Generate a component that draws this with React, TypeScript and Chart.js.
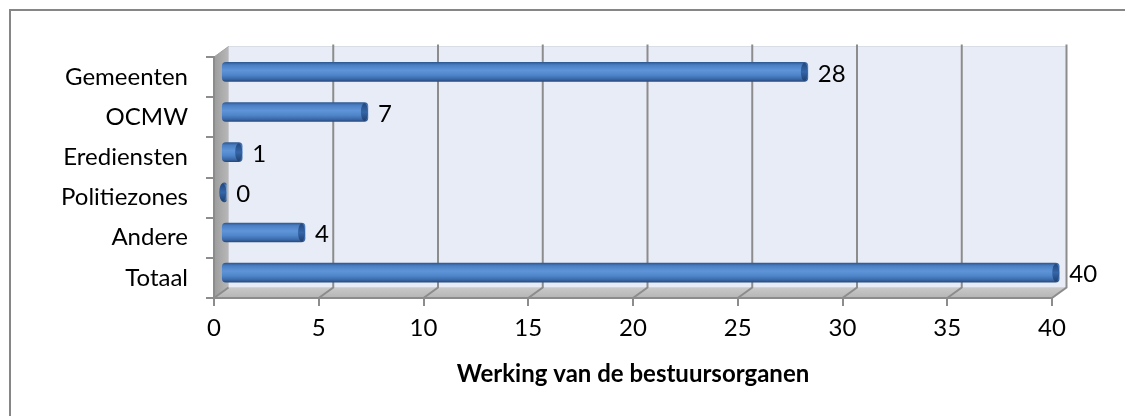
import React, { useEffect, useRef } from "react";
import { Chart, registerables } from "chart.js";

Chart.register(...registerables);

const categories = ["Gemeenten", "OCMW", "Erediensten", "Politiezones", "Andere", "Totaal"];
const values = [28, 7, 1, 0, 4, 40];
const xMin = 0;
const xMax = 40;
const xStep = 5;
const axisTitle = "Werking van de bestuursorganen";

const DX = 14.5;
const DY = -10.5;
const BAR_H = 19;
const FONT = "Lato, 'Noto Sans', sans-serif";

function barGradient(ctx: CanvasRenderingContext2D, yc: number) {
  const g = ctx.createLinearGradient(0, yc - BAR_H / 2, 0, yc + BAR_H / 2);
  g.addColorStop(0, "#2f5a94");
  g.addColorStop(0.14, "#4a7fc4");
  g.addColorStop(0.42, "#5f95d8");
  g.addColorStop(0.68, "#4e84c9");
  g.addColorStop(0.88, "#3a68a8");
  g.addColorStop(1, "#284b7e");
  return g;
}

const frame3d = {
  id: "frame3d",
  beforeDraw(chart: any) {
    const ctx: CanvasRenderingContext2D = chart.ctx;
    const xs = chart.scales.x;
    const { top, bottom } = chart.chartArea;
    const x0 = xs.getPixelForValue(xMin);
    const x1 = xs.getPixelForValue(xMax);
    ctx.save();
    // outer frame (top and left visible)
    ctx.strokeStyle = "#868686";
    ctx.lineWidth = 2;
    ctx.beginPath();
    ctx.moveTo(2, chart.height);
    ctx.lineTo(2, 2);
    ctx.lineTo(chart.width, 2);
    ctx.stroke();
    // back wall
    ctx.fillStyle = "#e8ecf6";
    ctx.fillRect(x0 + DX, top + DY, x1 - x0, bottom - top);
    ctx.strokeStyle = "#d9dde6";
    ctx.lineWidth = 1;
    ctx.strokeRect(x0 + DX, top + DY, x1 - x0, bottom - top);
    // side wall
    const sg = ctx.createLinearGradient(x0, 0, x0 + DX, 0);
    sg.addColorStop(0, "#9c9c9c");
    sg.addColorStop(1, "#b8b8b8");
    ctx.fillStyle = sg;
    ctx.beginPath();
    ctx.moveTo(x0, top);
    ctx.lineTo(x0 + DX, top + DY);
    ctx.lineTo(x0 + DX, bottom + DY);
    ctx.lineTo(x0, bottom);
    ctx.closePath();
    ctx.fill();
    // floor
    const fg = ctx.createLinearGradient(0, bottom + DY, 0, bottom);
    fg.addColorStop(0, "#c9c9c9");
    fg.addColorStop(1, "#b5b5b5");
    ctx.fillStyle = fg;
    ctx.beginPath();
    ctx.moveTo(x0, bottom);
    ctx.lineTo(x1, bottom);
    ctx.lineTo(x1 + DX, bottom + DY);
    ctx.lineTo(x0 + DX, bottom + DY);
    ctx.closePath();
    ctx.fill();
    // grid lines: floor diagonals and back wall verticals
    ctx.strokeStyle = "#8c8c8c";
    ctx.lineWidth = 2;
    for (let v = xMin; v <= xMax; v += xStep) {
      const x = xs.getPixelForValue(v);
      ctx.beginPath();
      ctx.moveTo(x, bottom);
      ctx.lineTo(x + DX, bottom + DY);
      if (v > xMin) ctx.lineTo(x + DX, top + DY - 2);
      ctx.stroke();
    }
    // side wall top edge
    ctx.beginPath();
    ctx.moveTo(x0, top);
    ctx.lineTo(x0 + DX, top + DY);
    ctx.strokeStyle = "#a0a0a0";
    ctx.lineWidth = 1;
    ctx.stroke();
    ctx.restore();
  },
  beforeDatasetsDraw(chart: any) {
    chart.ctx.save();
    chart.ctx.translate(DX / 2, DY / 2);
  },
  afterDatasetsDraw(chart: any) {
    const ctx: CanvasRenderingContext2D = chart.ctx;
    const meta = chart.getDatasetMeta(0);
    meta.data.forEach((el: any) => {
      const ex = el.x;
      const yc = el.y;
      if (!Number.isFinite(ex) || !Number.isFinite(yc)) return;
      const cg = ctx.createLinearGradient(0, yc - BAR_H / 2, 0, yc + BAR_H / 2);
      cg.addColorStop(0, "#22467a");
      cg.addColorStop(0.5, "#3566a8");
      cg.addColorStop(1, "#1f3f6e");
      ctx.fillStyle = cg;
      ctx.beginPath();
      ctx.ellipse(ex - 3.5, yc, 3.5, BAR_H / 2 - 0.5, 0, 0, Math.PI * 2);
      ctx.fill();
    });
    ctx.restore();
    ctx.save();
    ctx.fillStyle = "#000";
    ctx.font = `24px ${FONT}`;
    ctx.textAlign = "left";
    ctx.textBaseline = "middle";
    meta.data.forEach((el: any, i: number) => {
      ctx.fillText(String(values[i]), el.x + DX / 2 + 10, el.y + DY / 2 + 2);
    });
    ctx.restore();
  },
};

export default function App() {
  const ref = useRef<HTMLCanvasElement | null>(null);
  useEffect(() => {
    if (!ref.current) return;
    const chart = new Chart(ref.current, {
      type: "bar",
      data: {
        labels: categories,
        datasets: [
          {
            data: values,
            barThickness: BAR_H,
            minBarLength: 5,
            borderRadius: 4,
            borderSkipped: false,
            borderWidth: 0,
            clip: false as any,
            backgroundColor: (c: any) => {
              const chart = c.chart;
              const ys = chart.scales?.y;
              if (!ys || c.dataIndex === undefined) return "#4f81bd";
              const yc = ys.getPixelForValue(c.dataIndex);
              if (!Number.isFinite(yc)) return "#4f81bd";
              return barGradient(chart.ctx, yc);
            },
          },
        ],
      },
      options: {
        indexAxis: "y",
        responsive: false,
        animation: false,
        layout: { padding: { left: 0, top: 49, right: 81, bottom: 0 } },
        plugins: { legend: { display: false }, tooltip: { enabled: false } },
        scales: {
          x: {
            type: "linear",
            min: xMin,
            max: xMax,
            ticks: { stepSize: xStep, color: "#000", font: { family: FONT, size: 24 }, padding: 8 },
            grid: { drawOnChartArea: false, drawTicks: true, tickLength: 8, color: "#8c8c8c", lineWidth: 2 },
            border: { display: true, color: "#8c8c8c", width: 2 },
            title: {
              display: true,
              text: axisTitle,
              color: "#000",
              font: { family: FONT, size: 24, weight: "bold" },
              padding: { top: 0, bottom: 27 },
            },
            afterFit: (s: any) => {
              s.height = 118;
            },
          },
          y: {
            type: "category",
            ticks: { color: "#000", font: { family: FONT, size: 24 }, padding: 18 },
            grid: { drawOnChartArea: false, drawTicks: true, tickLength: 8, color: "#8c8c8c", lineWidth: 2, offset: true },
            border: { display: true, color: "#8c8c8c", width: 2 },
            afterFit: (s: any) => {
              s.width = 206;
            },
          },
        },
      } as any,
      plugins: [frame3d],
    });
    return () => chart.destroy();
  }, []);
  return <canvas ref={ref} width={1125} height={408} style={{ display: "block" }} />;
}
